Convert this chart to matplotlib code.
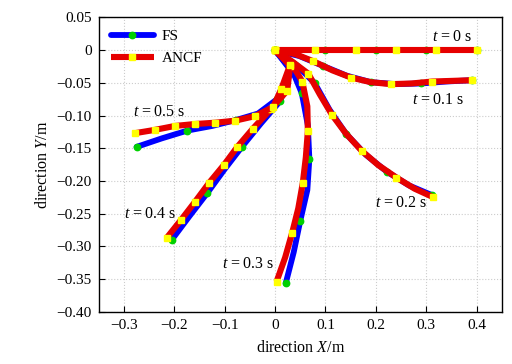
import numpy as np
import matplotlib
matplotlib.use("Agg")
import matplotlib.pyplot as plt  # noqa: E402
from matplotlib.ticker import FixedLocator, FixedFormatter  # noqa: E402

plt.rcParams["font.family"] = ["Liberation Serif", "DejaVu Serif"]
plt.rcParams["mathtext.fontset"] = "custom"
plt.rcParams["mathtext.rm"] = "Liberation Serif"
plt.rcParams["mathtext.it"] = "Liberation Serif:italic"

# beam shapes (x, y in m)
# ANCF: points every 0.04 m of arc length
ancf_t0_x = [0.0, 0.04, 0.08, 0.12, 0.16, 0.20, 0.24, 0.28, 0.32, 0.36, 0.40]
ancf_t0_y = [0.0] * 11
ancf_t1_x = [0.0, 0.040, 0.076, 0.114, 0.151, 0.190, 0.230, 0.271, 0.312, 0.352, 0.391]
ancf_t1_y = [0.0, -0.006, -0.017, -0.031, -0.042, -0.049, -0.052, -0.051, -0.048, -0.047, -0.046]
ancf_t2_x = [0.0, 0.035, 0.066, 0.089, 0.113, 0.141, 0.172, 0.205, 0.241, 0.277, 0.314]
ancf_t2_y = [0.0, -0.018, -0.036, -0.068, -0.099, -0.128, -0.154, -0.176, -0.195, -0.212, -0.225]
ancf_t3_x = [0.0, 0.032, 0.054, 0.064, 0.065, 0.061, 0.055, 0.046, 0.034, 0.020, 0.003]
ancf_t3_y = [0.0, -0.020, -0.048, -0.086, -0.124, -0.164, -0.203, -0.242, -0.279, -0.317, -0.354]
ancf_t4_x = [0.0, 0.030, 0.024, -0.008, -0.044, -0.075, -0.101, -0.131, -0.159, -0.187, -0.215]
ancf_t4_y = [0.0, -0.024, -0.062, -0.090, -0.120, -0.148, -0.175, -0.203, -0.232, -0.260, -0.287]
ancf_t5_x = [0.0, 0.030, 0.012, -0.004, -0.040, -0.080, -0.119, -0.159, -0.199, -0.239, -0.278]
ancf_t5_y = [0.0, -0.022, -0.060, -0.087, -0.101, -0.108, -0.111, -0.113, -0.116, -0.122, -0.127]

# FS: points every 0.05 m of arc length
fs_t0_x = [0.0, 0.05, 0.10, 0.15, 0.20, 0.25, 0.30, 0.35, 0.40]
fs_t0_y = [0.0] * 9
fs_t1_x = [0.0, 0.048, 0.095, 0.142, 0.190, 0.240, 0.290, 0.340, 0.390]
fs_t1_y = [0.0, -0.009, -0.024, -0.039, -0.049, -0.052, -0.051, -0.048, -0.046]
fs_t2_x = [0.0, 0.043, 0.079, 0.108, 0.141, 0.180, 0.222, 0.266, 0.312]
fs_t2_y = [0.0, -0.023, -0.051, -0.091, -0.128, -0.160, -0.186, -0.207, -0.222]
fs_t3_x = [0.0, 0.032, 0.053, 0.065, 0.068, 0.064, 0.050, 0.037, 0.021]
fs_t3_y = [0.0, -0.027, -0.066, -0.115, -0.166, -0.214, -0.261, -0.309, -0.357]
fs_t4_x = [0.0, 0.032, 0.010, -0.028, -0.066, -0.101, -0.135, -0.170, -0.205]
fs_t4_y = [0.0, -0.030, -0.078, -0.112, -0.148, -0.183, -0.219, -0.254, -0.290]
fs_t5_x = [0.0, 0.030, 0.004, -0.034, -0.078, -0.125, -0.174, -0.225, -0.275]
fs_t5_y = [0.0, -0.030, -0.075, -0.097, -0.107, -0.116, -0.123, -0.135, -0.148]

ancf_curves = [(ancf_t0_x, ancf_t0_y, 2), (ancf_t1_x, ancf_t1_y, 2),
               (ancf_t2_x, ancf_t2_y, 2), (ancf_t3_x, ancf_t3_y, 2),
               (ancf_t4_x, ancf_t4_y, 1), (ancf_t5_x, ancf_t5_y, 1)]
fs_curves = [(fs_t0_x, fs_t0_y), (fs_t1_x, fs_t1_y), (fs_t2_x, fs_t2_y),
             (fs_t3_x, fs_t3_y), (fs_t4_x, fs_t4_y), (fs_t5_x, fs_t5_y)]

time_labels = ["0", "0.1", "0.2", "0.3", "0.4", "0.5"]
label_x = [0.350, 0.323, 0.250, -0.055, -0.249, -0.230]
label_y = [0.020, -0.077, -0.234, -0.327, -0.250, -0.095]

xticks = [-0.3, -0.2, -0.1, 0, 0.1, 0.2, 0.3, 0.4]
xticklabels = ["\u22120.3", "\u22120.2", "\u22120.1", "0", "0.1", "0.2", "0.3", "0.4"]
yticks = [0.05, 0, -0.05, -0.10, -0.15, -0.20, -0.25, -0.30, -0.35, -0.40]
yticklabels = ["0.05", "0", "\u22120.05", "\u22120.10", "\u22120.15", "\u22120.20",
               "\u22120.25", "\u22120.30", "\u22120.35", "\u22120.40"]

fig = plt.figure(figsize=(5.12, 3.64), dpi=100, facecolor="white")
ax = fig.add_axes([0.193, 0.144, 0.787, 0.808])

BLUE = "#0000ff"
GREEN = "#00d000"
RED = "#e60000"
YELLOW = "#ffff00"

for i, (x, y) in enumerate(fs_curves):
    ax.plot(x, y, color=BLUE, lw=4.2, solid_capstyle="round", marker="o",
            ms=4.6, mfc=GREEN, mec=GREEN, markevery=2, zorder=3,
            label="FS" if i == 0 else None)
for i, (x, y, every) in enumerate(ancf_curves):
    ax.plot(x, y, color=RED, lw=4.4, solid_capstyle="butt", marker="s",
            ms=4.4, mfc=YELLOW, mec=YELLOW, markevery=every, zorder=4,
            label="ANCF" if i == 0 else None)

for lab, tx, ty in zip(time_labels, label_x, label_y):
    ax.text(tx, ty, rf"$t\,={lab}$ s", fontsize=11.5, ha="center", va="center")

ax.set_xlim(-0.35, 0.45)
ax.set_ylim(-0.40, 0.05)
ax.xaxis.set_major_locator(FixedLocator(xticks))
ax.xaxis.set_major_formatter(FixedFormatter(xticklabels))
ax.yaxis.set_major_locator(FixedLocator(yticks))
ax.yaxis.set_major_formatter(FixedFormatter(yticklabels))
ax.tick_params(direction="in", length=4, width=0.8, labelsize=11, pad=5)
ax.grid(True, color="#cccccc", ls=":", lw=0.8)
ax.set_axisbelow(True)
for sp in ax.spines.values():
    sp.set_linewidth(1.0)

ax.set_xlabel(r"direction $X$/m", fontsize=11.5, labelpad=6)
ax.set_ylabel(r"direction $Y$/m", fontsize=11.5, labelpad=4)
ax.legend(loc="upper left", frameon=False, fontsize=11, handlelength=2.8,
          borderaxespad=0.4, labelspacing=0.55, handletextpad=0.5)

fig.savefig("out.png", dpi=100)
